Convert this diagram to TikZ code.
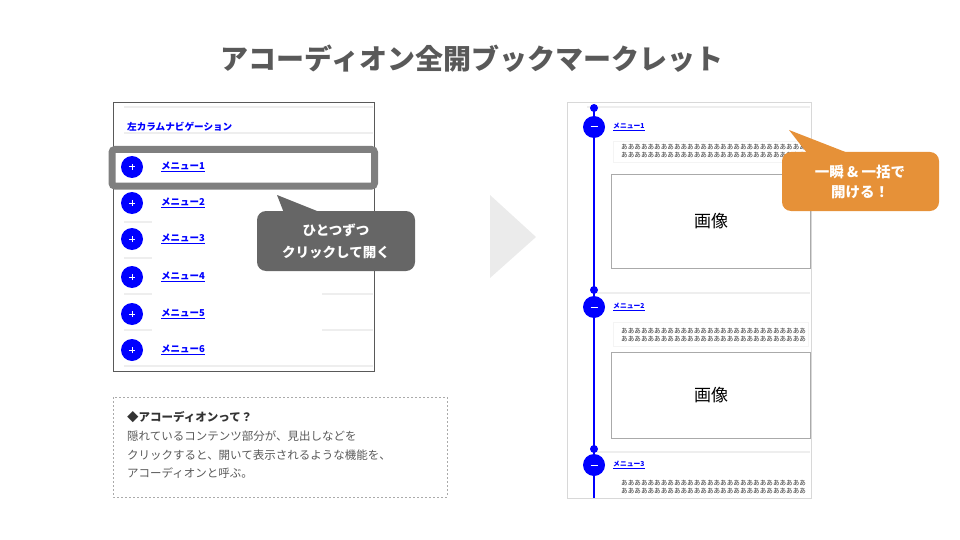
\documentclass[tikz,border=0pt]{standalone}
\usepackage{fontspec}
\setmainfont{Noto Sans CJK JP}
\definecolor{titlegray}{HTML}{595959}
\definecolor{framegray}{HTML}{7F7F7F}
\definecolor{callgray}{HTML}{666666}
\definecolor{calloran}{HTML}{E69138}
\definecolor{sepgray}{HTML}{EEEEEE}
\definecolor{faintgray}{HTML}{F4F4F4}
\definecolor{tri}{HTML}{EBEBEB}
\definecolor{imgborder}{HTML}{AAAAAA}
\definecolor{linkblue}{HTML}{0000FF}
\tikzset{
  bluedisc/.style={circle, fill=linkblue, minimum size=22pt, inner sep=0pt},
  bluedot/.style={circle, fill=linkblue, minimum size=8pt, inner sep=0pt},
  leftlink/.style={anchor=west, text=linkblue, inner sep=0pt, font=\fontsize{9.5}{10}\selectfont\bfseries},
  rightlink/.style={anchor=west, text=linkblue, inner sep=0pt, font=\fontsize{6.8}{7}\selectfont\bfseries},
  filler/.style={anchor=west, text=black!80, inner sep=0pt, font=\fontsize{6.6}{7}\selectfont},
  imgbox/.style={draw=imgborder, line width=0.8pt},
  imgtext/.style={font=\fontsize{17}{18}\selectfont, text=black},
  sepline/.style={draw=sepgray, line width=1.5pt},
  calltext/.style={text=white, font=\fontsize{13.5}{14}\selectfont\bfseries},
  orantext/.style={text=white, font=\fontsize{14.5}{15}\selectfont\bfseries},
  notetext/.style={anchor=west, inner sep=0pt, text=titlegray, font=\fontsize{11.5}{12}\selectfont},
  signline/.style={white, line width=1pt},
}
\newcommand{\aaa}{ああああああああああああああああああああああああああああ}
\begin{document}
\begin{tikzpicture}[x=1pt,y=-1pt]
\useasboundingbox (0,0) rectangle (960,540);

% title
\node[text=titlegray, font=\fontsize{28}{30}\selectfont\bfseries] (title) at (472,59) {アコーディオン全開ブックマークレット};

% ---------- left panel ----------
\draw[titlegray, line width=0.8pt] (113,102) rectangle (374,371);
\draw[sepline] (124,107) -- (373,107);
\draw[sepline] (124,133) -- (373,133);
\node[anchor=west, text=linkblue, inner sep=0pt, font=\fontsize{9.6}{10}\selectfont\bfseries] (navtitle) at (127,127) {左カラムナビゲーション};
\draw[sepline] (124,222) -- (152,222);
\draw[sepline] (124,258) -- (152,258);
\draw[sepline] (124,294) -- (152,294);
\draw[sepline] (322,294) -- (373,294);
\draw[sepline] (124,330) -- (152,330);
\draw[sepline] (322,330) -- (373,330);
\draw[sepline] (124,366) -- (373,366);

% highlight frame
\draw[framegray, line width=7pt, rounded corners=3pt, fill=white] (112,149.5) rectangle (374.5,186);

\foreach \i/\y in {1/167,2/203,3/239,4/277,5/314,6/350}{
  \node[bluedisc] (lc\i) at (132,\y) {};
  \draw[signline] ([xshift=-3pt]lc\i.center) -- ([xshift=3pt]lc\i.center);
  \draw[signline] ([yshift=-3pt]lc\i.center) -- ([yshift=3pt]lc\i.center);
  \node[leftlink] (ll\i) at (161,\y) {\underline{メニュー\i}};
}

% gray callout
\fill[callgray] (277,195) -- (284,213) -- (322,213) -- cycle;
\fill[callgray, rounded corners=9pt] (257,211) rectangle (415,271);
\node[calltext] (gc1) at (336,230) {ひとつずつ};
\node[calltext] (gc2) at (336,253) {クリックして開く};

% middle arrow
\fill[tri] (490,195) -- (536,237) -- (490,278) -- cycle;

% ---------- right panel ----------
\draw[sepgray!80!gray, line width=0.8pt] (567,102) rectangle (811,498);
\draw[sepline] (587,107) -- (810,107);
\draw[sepline] (597,293) -- (810,293);
\draw[sepline] (597,452) -- (810,452);
\draw[linkblue, line width=2pt] (594,108) -- (594,498);

\draw[faintgray, line width=0.6pt] (613,141) rectangle (808,162);
\draw[faintgray, line width=0.6pt] (613,322) rectangle (808,346);

\foreach \i/\yd/\yc/\ya in {1/108/127/147, 2/290/307/331, 3/449/465/483}{
  \node[bluedot] (rd\i) at (594,\yd) {};
  \node[bluedisc] (rc\i) at (594,\yc) {};
  \draw[signline] ([xshift=-3.5pt]rc\i.center) -- ([xshift=3.5pt]rc\i.center);
  \node[rightlink] (rl\i) at (613,\yc) {\underline{メニュー\i}};
  \node[filler] (fa\i) at (621,\ya) {\aaa};
  \node[filler] (fb\i) at (621,\ya+8) {\aaa};
}

\draw[imgbox] (611,174) rectangle (810,268);
\node[imgtext] (img1) at (711,221) {画像};
\draw[imgbox] (611,352) rectangle (810,438);
\node[imgtext] (img2) at (711,395) {画像};

% orange callout
\fill[calloran] (789,130) -- (807,153) -- (848,153) -- cycle;
\fill[calloran, rounded corners=9pt] (782,152) rectangle (939,211);
\node[orantext] (oc1) at (860,172) {一瞬 \& 一括で};
\node[orantext] (oc2) at (860,192) {開ける！};

% ---------- note box ----------
\draw[imgborder, dash pattern=on 2pt off 2pt, line width=0.7pt] (113,397) rectangle (447,497);
\node[notetext, font=\fontsize{11.5}{12}\selectfont\bfseries, text=black!80] (n0) at (127,417) {◆アコーディオンって？};
\node[notetext] (n1) at (127,436) {隠れているコンテンツ部分が、見出しなどを};
\node[notetext] (n2) at (127,455) {クリックすると、開いて表示されるような機能を、};
\node[notetext] (n3) at (127,473) {アコーディオンと呼ぶ。};
\end{tikzpicture}
\end{document}
